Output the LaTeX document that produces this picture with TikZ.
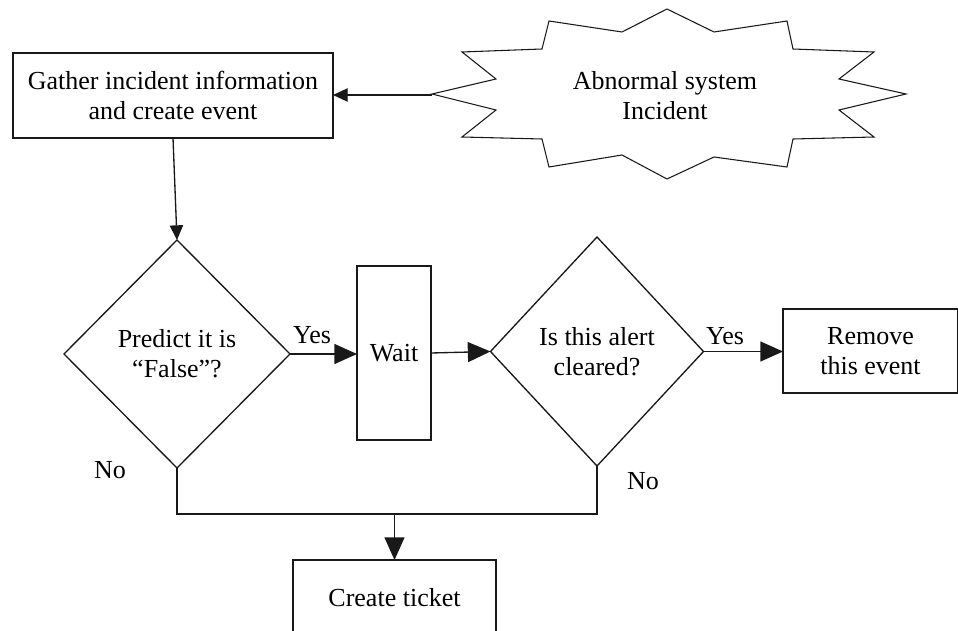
\documentclass[tikz,border=0pt]{standalone}
\usepackage{fontspec}
\setmainfont{Liberation Serif}
\usetikzlibrary{arrows.meta,shapes.geometric}
\tikzset{
  base/.style={draw=black!90, line width=1pt, inner sep=0pt, outer sep=0pt, align=center,
    font=\fontsize{19.5}{22.5}\selectfont},
  box/.style={base, rectangle},
  dec/.style={base, diamond},
  conn/.style={draw=black!90, line width=1pt},
  bigarrow/.style={conn, -{Triangle[length=17pt,width=15pt]}},
  smallarrow/.style={conn, -{Triangle[length=11pt,width=10pt]}},
  lbl/.style={font=\fontsize{19.5}{22.5}\selectfont, inner sep=0pt}
}
\begin{document}
\begin{tikzpicture}[x=0.75pt,y=-0.75pt]
\useasboundingbox (0,0) rectangle (958,631);
% starburst
\draw[conn, line width=0.8pt, line join=miter] (432,94) -- (496,79) -- (462,52) -- (542,49) -- (549,21) -- (622,32)
  -- (667,9) -- (714,32) -- (787,21) -- (793,49) -- (874,52) -- (839,79) -- (906,94)
  -- (839,110) -- (874,137) -- (793,139) -- (787,167) -- (714,157) -- (667,179)
  -- (622,155) -- (549,167) -- (542,139) -- (462,137) -- (496,110) -- cycle;
\coordinate (burstL) at (432,95);
\node[lbl, align=center] (burst) at (665,96) {Abnormal system\\Incident};
% nodes
\node[box, minimum width=240pt, minimum height=63.75pt] (gather) at (173,95.5) {Gather incident information\\and create event};
\node[dec, minimum width=169.5pt, minimum height=171pt] (d1) at (177,354) {Predict it is\\“False”?};
\node[box, minimum width=55.5pt, minimum height=130.5pt] (wait) at (394,353) {Wait};
\node[dec, minimum width=159.75pt, minimum height=171.75pt] (d2) at (597,351.5) {Is this alert\\cleared?};
\node[box, minimum width=131.25pt, minimum height=63pt] (remove) at (870.5,351) {Remove\\this event};
\node[box, minimum width=152.25pt, minimum height=57pt] (ticket) at (394.5,598) {Create ticket};
% connectors
\draw[smallarrow] (burstL) -- (burstL -| gather.east);
\draw[smallarrow] (gather.south) -- (d1.north);
\draw[bigarrow] (d1.east) -- (d1.east -| wait.west);
\draw[bigarrow] (wait.east) -- (d2.west);
\draw[bigarrow] (d2.east) -- (d2.east -| remove.west);
\coordinate (merge) at (394.5,514);
\draw[conn] (d1.south) |- (merge);
\draw[conn] (d2.south) |- (merge);
\draw[bigarrow] (merge) -- (ticket.north);
% labels
\node[lbl] (yes1) at (312,335) {Yes};
\node[lbl] (yes2) at (725,336) {Yes};
\node[lbl] (no1) at (110,470) {No};
\node[lbl] (no2) at (643,481) {No};
\end{tikzpicture}
\end{document}
